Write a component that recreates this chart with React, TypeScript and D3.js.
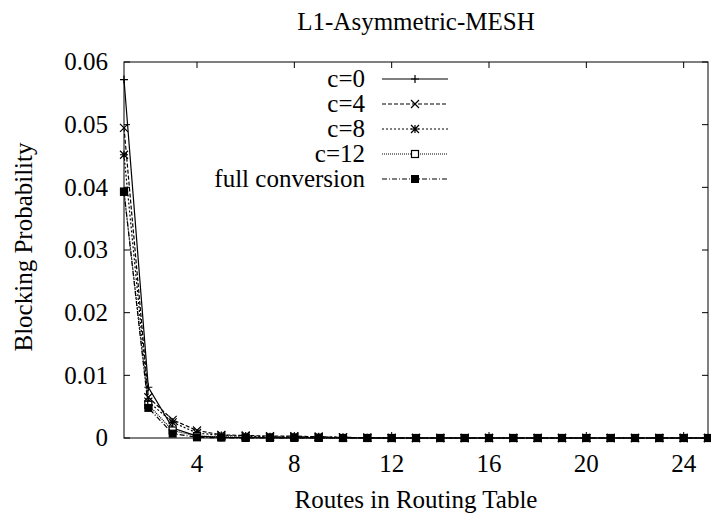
import React from "react";
import * as d3 from "d3";

// Number of routes kept in the routing table (x axis)
const routes = d3.range(1, 26);

// Blocking probability per conversion capacity
const c0 = [0.0572, 0.0081, 0.0016, 0.0003, 0.0001, 0.00005, 0.00003, 0.00002, 0.00001, 0, 0, 0, 0, 0, 0, 0, 0, 0, 0, 0, 0, 0, 0, 0, 0];
const c4 = [0.0495, 0.0065, 0.0029, 0.0012, 0.0005, 0.0004, 0.0003, 0.0003, 0.0002, 0.0001, 0.00005, 0, 0, 0, 0, 0, 0, 0, 0, 0, 0, 0, 0, 0, 0];
const c8 = [0.0452, 0.0058, 0.0025, 0.0008, 0.0004, 0.0003, 0.0002, 0.0002, 0.0002, 0.0001, 0.00005, 0, 0, 0, 0, 0, 0, 0, 0, 0, 0, 0, 0, 0, 0];
const c12 = [0.0393, 0.0053, 0.0012, 0.0003, 0.0002, 0.0001, 0.0001, 0.0001, 0.00005, 0, 0, 0, 0, 0, 0, 0, 0, 0, 0, 0, 0, 0, 0, 0, 0];
const full = [0.0393, 0.0048, 0.0007, 0.0001, 0.00005, 0, 0, 0, 0, 0, 0, 0, 0, 0, 0, 0, 0, 0, 0, 0, 0, 0, 0, 0, 0];

const seriesNames = ["c=0", "c=4", "c=8", "c=12", "full conversion"];
const seriesValues = [c0, c4, c8, c12, full];
const dashes = ["none", "4,2", "2,2", "1,1", "5,2,1,2"];
const markers = ["plus", "cross", "star", "box", "boxfill"];

const xTicks = [4, 8, 12, 16, 20, 24];
const yTicks = [0, 0.01, 0.02, 0.03, 0.04, 0.05, 0.06];

const W = 711;
const H = 515;
const M = { left: 124, right: 708, top: 62, bottom: 438 };
const FONT = "'Liberation Serif', 'DejaVu Serif', serif";
const FS = 25;

function Marker({ kind, x, y }: { kind: string; x: number; y: number }) {
  const s = 4;
  switch (kind) {
    case "plus":
      return (
        <path d={`M${x - s},${y}H${x + s}M${x},${y - s}V${y + s}`} stroke="#000" strokeWidth={1.2} />
      );
    case "cross":
      return (
        <path
          d={`M${x - s},${y - s}L${x + s},${y + s}M${x - s},${y + s}L${x + s},${y - s}`}
          stroke="#000"
          strokeWidth={1.2}
        />
      );
    case "star":
      return (
        <path
          d={`M${x - s},${y}H${x + s}M${x},${y - s}V${y + s}M${x - s},${y - s}L${x + s},${y + s}M${x - s},${y + s}L${x + s},${y - s}`}
          stroke="#000"
          strokeWidth={1.2}
        />
      );
    case "box":
      return <rect x={x - s + 0.5} y={y - s + 0.5} width={2 * s - 1} height={2 * s - 1} fill="#fff" stroke="#000" strokeWidth={1.2} />;
    default:
      return <rect x={x - s} y={y - s} width={2 * s} height={2 * s} fill="#000" />;
  }
}

export default function App() {
  const x = d3.scaleLinear().domain([1, 25]).range([M.left, M.right]);
  const y = d3.scaleLinear().domain([0, 0.06]).range([M.bottom, M.top]);
  const line = d3
    .line<number>()
    .x((_, i) => x(routes[i]))
    .y((d) => y(d));

  const legendX = 365;
  const legendLine = [382, 448];
  const legendY0 = 79;
  const legendStep = 25;

  return (
    <svg width={W} height={H} style={{ position: "absolute", left: 0, top: 0, background: "#fff" }} fontFamily={FONT}>
      <rect x={0} y={0} width={W} height={H} fill="#fff" />
      <text x={(M.left + M.right) / 2} y={30} textAnchor="middle" fontSize={FS}>
        L1-Asymmetric-MESH
      </text>

      {/* ticks, mirrored on opposite sides */}
      {yTicks.map((t) => (
        <g key={`y${t}`}>
          <line x1={M.left} x2={M.left + 6} y1={y(t)} y2={y(t)} stroke="#000" />
          <line x1={M.right} x2={M.right - 6} y1={y(t)} y2={y(t)} stroke="#000" />
          <text x={108} y={y(t)} dy="0.33em" textAnchor="end" fontSize={FS}>
            {t === 0 ? "0" : d3.format(".2f")(t)}
          </text>
        </g>
      ))}
      {xTicks.map((t) => (
        <g key={`x${t}`}>
          <line x1={x(t)} x2={x(t)} y1={M.bottom} y2={M.bottom - 6} stroke="#000" />
          <line x1={x(t)} x2={x(t)} y1={M.top} y2={M.top + 6} stroke="#000" />
          <text x={x(t)} y={472} textAnchor="middle" fontSize={FS}>
            {t}
          </text>
        </g>
      ))}

      <text x={(M.left + M.right) / 2} y={508} textAnchor="middle" fontSize={FS}>
        Routes in Routing Table
      </text>
      <text transform={`translate(32,247) rotate(-90)`} textAnchor="middle" fontSize={FS}>
        Blocking Probability
      </text>

      {/* data series */}
      {seriesValues.map((vals, si) => (
        <g key={seriesNames[si]}>
          <path
            d={line(vals) || ""}
            fill="none"
            stroke="#000"
            strokeWidth={1.2}
            strokeDasharray={dashes[si] === "none" ? undefined : dashes[si]}
          />
          {vals.map((v, i) => (
            <Marker key={i} kind={markers[si]} x={x(routes[i])} y={y(v)} />
          ))}
        </g>
      ))}

      {/* legend */}
      {seriesNames.map((name, si) => {
        const ly = legendY0 + si * legendStep;
        return (
          <g key={`leg${name}`}>
            <text x={legendX} y={ly} dy="0.33em" textAnchor="end" fontSize={FS}>
              {name}
            </text>
            <line
              x1={legendLine[0]}
              x2={legendLine[1]}
              y1={ly}
              y2={ly}
              stroke="#000"
              strokeWidth={1.2}
              strokeDasharray={dashes[si] === "none" ? undefined : dashes[si]}
            />
            <Marker kind={markers[si]} x={(legendLine[0] + legendLine[1]) / 2} y={ly} />
          </g>
        );
      })}

      <rect x={M.left} y={M.top} width={M.right - M.left} height={M.bottom - M.top} fill="none" stroke="#000" strokeWidth={1} />
    </svg>
  );
}
